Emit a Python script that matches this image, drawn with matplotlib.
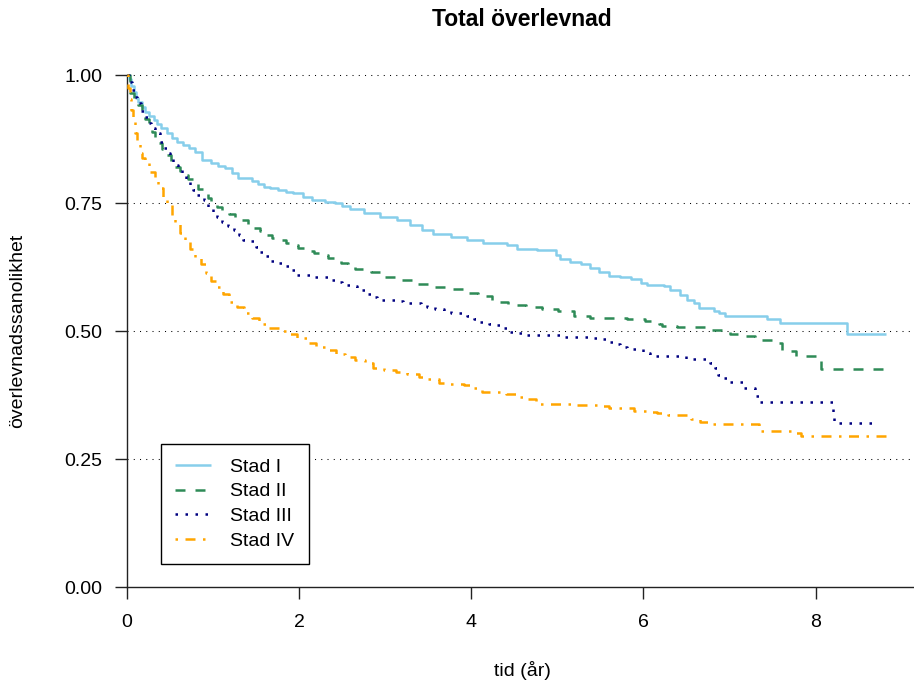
import matplotlib
matplotlib.use("Agg")
import matplotlib.pyplot as plt
from matplotlib.ticker import FormatStrFormatter

plt.rcParams['font.family'] = ['Liberation Sans', 'DejaVu Sans']

# ---- data ----
groups = ["Stad I", "Stad II", "Stad III", "Stad IV"]

t1 = [0, 0.02, 0.05, 0.08, 0.11, 0.13, 0.17, 0.21, 0.26, 0.31, 0.35, 0.40, 0.46, 0.52, 0.58,
      0.65, 0.72, 0.79, 0.87, 0.98, 1.06, 1.14, 1.22, 1.29, 1.45, 1.52, 1.59, 1.66, 1.75, 1.85,
      1.93, 2.05, 2.15, 2.30, 2.42, 2.50, 2.59, 2.75, 2.94, 3.14, 3.29, 3.43, 3.56, 3.76, 3.95,
      4.14, 4.42, 4.53, 4.76, 4.98, 5.03, 5.15, 5.27, 5.38, 5.48, 5.60, 5.73, 5.85, 5.97, 6.04,
      6.24, 6.31, 6.43, 6.51, 6.59, 6.64, 6.82, 6.88, 6.95, 7.44, 7.59, 8.37, 8.82]
s1 = [1.0, 0.992, 0.978, 0.966, 0.955, 0.948, 0.937, 0.928, 0.919, 0.912, 0.904, 0.896, 0.886, 0.876, 0.869,
      0.863, 0.857, 0.850, 0.834, 0.828, 0.823, 0.818, 0.808, 0.798, 0.792, 0.787, 0.782, 0.779, 0.775, 0.772,
      0.769, 0.762, 0.756, 0.752, 0.750, 0.744, 0.738, 0.730, 0.722, 0.716, 0.707, 0.697, 0.689, 0.683, 0.678,
      0.671, 0.668, 0.660, 0.658, 0.648, 0.641, 0.634, 0.630, 0.624, 0.616, 0.608, 0.605, 0.601, 0.594, 0.589,
      0.588, 0.580, 0.570, 0.561, 0.555, 0.544, 0.539, 0.535, 0.530, 0.523, 0.515, 0.495, 0.495]

t2 = [0, 0.03, 0.08, 0.13, 0.17, 0.21, 0.25, 0.29, 0.33, 0.36, 0.41, 0.46, 0.51, 0.56, 0.61,
      0.65, 0.71, 0.77, 0.83, 0.89, 0.94, 0.98, 1.04, 1.10, 1.18, 1.26, 1.34, 1.41, 1.48, 1.55,
      1.62, 1.68, 1.77, 1.85, 1.92, 1.99, 2.08, 2.17, 2.25, 2.33, 2.41, 2.49, 2.57, 2.65, 2.83,
      3.00, 3.17, 3.37, 3.54, 3.74, 3.91, 4.08, 4.24, 4.43, 4.63, 4.82, 5.01, 5.19, 5.38, 5.81,
      6.02, 6.18, 6.22, 6.39, 6.78, 7.00, 7.19, 7.30, 7.52, 7.61, 7.77, 8.03, 8.06, 8.81]
s2 = [1.0, 0.964, 0.952, 0.941, 0.928, 0.915, 0.902, 0.889, 0.878, 0.867, 0.855, 0.844, 0.832, 0.821, 0.813,
      0.805, 0.797, 0.788, 0.778, 0.769, 0.759, 0.749, 0.742, 0.736, 0.729, 0.723, 0.716, 0.709, 0.702, 0.696,
      0.688, 0.681, 0.677, 0.672, 0.667, 0.662, 0.657, 0.653, 0.648, 0.643, 0.638, 0.633, 0.627, 0.622, 0.616,
      0.606, 0.600, 0.592, 0.586, 0.583, 0.575, 0.568, 0.556, 0.551, 0.547, 0.542, 0.539, 0.529, 0.526, 0.523,
      0.520, 0.513, 0.509, 0.507, 0.501, 0.494, 0.490, 0.482, 0.476, 0.460, 0.451, 0.443, 0.426, 0.426]

t3 = [0, 0.02, 0.06, 0.09, 0.12, 0.16, 0.20, 0.24, 0.28, 0.33, 0.38, 0.42, 0.46, 0.50, 0.54,
      0.59, 0.64, 0.68, 0.73, 0.77, 0.81, 0.89, 0.94, 1.00, 1.05, 1.10, 1.17, 1.24, 1.30, 1.35,
      1.44, 1.50, 1.55, 1.61, 1.66, 1.76, 1.83, 1.90, 1.95, 2.15, 2.34, 2.42, 2.50, 2.59, 2.67,
      2.76, 2.83, 2.90, 3.12, 3.21, 3.41, 3.49, 3.58, 3.68, 3.76, 3.95, 4.03, 4.10, 4.20, 4.30,
      4.38, 4.45, 4.54, 4.64, 5.05, 5.38, 5.48, 5.57, 5.65, 5.73, 5.81, 6.00, 6.08, 6.49, 6.77,
      6.83, 6.86, 6.94, 7.00, 7.16, 7.30, 7.34, 8.20, 8.205, 8.21, 8.67]
s3 = [1.0, 0.987, 0.971, 0.958, 0.945, 0.930, 0.918, 0.907, 0.896, 0.886, 0.870, 0.858, 0.847, 0.835, 0.824,
      0.815, 0.805, 0.795, 0.785, 0.776, 0.766, 0.756, 0.742, 0.733, 0.722, 0.712, 0.705, 0.697, 0.688, 0.678,
      0.676, 0.665, 0.655, 0.646, 0.637, 0.633, 0.626, 0.619, 0.609, 0.605, 0.600, 0.595, 0.590, 0.587, 0.580,
      0.573, 0.567, 0.561, 0.559, 0.555, 0.552, 0.546, 0.542, 0.540, 0.535, 0.529, 0.523, 0.517, 0.514, 0.511,
      0.505, 0.499, 0.497, 0.492, 0.488, 0.487, 0.484, 0.479, 0.475, 0.469, 0.465, 0.458, 0.452, 0.445, 0.437,
      0.427, 0.414, 0.409, 0.400, 0.388, 0.374, 0.361, 0.356, 0.337, 0.321, 0.321]

t4 = [0, 0.015, 0.03, 0.05, 0.07, 0.09, 0.12, 0.15, 0.18, 0.21, 0.26, 0.32, 0.36, 0.42, 0.46,
      0.52, 0.56, 0.62, 0.67, 0.73, 0.79, 0.86, 0.92, 0.98, 1.05, 1.12, 1.19, 1.28, 1.36, 1.45,
      1.53, 1.64, 1.76, 1.88, 1.98, 2.09, 2.19, 2.31, 2.43, 2.53, 2.65, 2.77, 2.86, 2.98, 3.12,
      3.25, 3.39, 3.50, 3.62, 3.74, 3.91, 4.01, 4.12, 4.26, 4.40, 4.53, 4.63, 4.75, 4.80, 5.19,
      5.46, 5.60, 5.89, 6.04, 6.16, 6.29, 6.55, 6.66, 6.80, 7.34, 7.36, 7.77, 7.83, 8.85]
s4 = [1.0, 0.974, 0.954, 0.932, 0.909, 0.886, 0.867, 0.847, 0.838, 0.829, 0.811, 0.795, 0.779, 0.762, 0.746,
      0.727, 0.710, 0.691, 0.674, 0.660, 0.644, 0.631, 0.613, 0.598, 0.585, 0.572, 0.557, 0.546, 0.535, 0.525,
      0.513, 0.506, 0.500, 0.494, 0.486, 0.476, 0.469, 0.463, 0.456, 0.450, 0.443, 0.438, 0.427, 0.423, 0.419,
      0.416, 0.411, 0.406, 0.399, 0.396, 0.395, 0.389, 0.381, 0.380, 0.377, 0.372, 0.367, 0.360, 0.357, 0.355,
      0.353, 0.349, 0.344, 0.342, 0.339, 0.336, 0.328, 0.323, 0.318, 0.313, 0.305, 0.301, 0.295, 0.295]

x_ticks = [0, 2, 4, 6, 8]
y_ticks = [0.0, 0.25, 0.5, 0.75, 1.0]

colors = ["#87CEEB", "#2E8B57", "#000080", "#FFA500"]
dashes = [None, (4, 4), (1, 3), (1, 3, 4, 3)]

# ---- figure ----
W, H = 914, 686
fig = plt.figure(figsize=(W / 100, H / 100), dpi=100)
ax = fig.add_axes([127 / W, 99 / H, 786 / W, 517 / H])

lw = 1.8
series = [(t1, s1), (t2, s2), (t3, s3), (t4, s4)]
for (t, s), c, d, lab in zip(series, colors, dashes, groups):
    kw = dict(color=c, lw=lw, where='post', label=lab, zorder=3, solid_capstyle='butt')
    line, = ax.step(t, s, **kw)
    if d is not None:
        line.set_dashes(d)

ax.set_xlim(0, 786 / 86.08)
ax.set_ylim(0, 517 / 512)

for y in y_ticks[1:]:
    ax.axhline(y, color='black', lw=0.75, linestyle=(0, (1, 5)), zorder=1)

for sp in ['top', 'right']:
    ax.spines[sp].set_visible(False)
ax.spines['left'].set_bounds(0, 1)
for sp in ['left', 'bottom']:
    ax.spines[sp].set_linewidth(1.0)
    ax.spines[sp].set_color('#222222')

ax.set_xticks(x_ticks)
ax.set_yticks(y_ticks)
ax.yaxis.set_major_formatter(FormatStrFormatter('%.2f'))
ax.tick_params(axis='both', direction='out', length=8.6, width=1.0, color='#222222',
               labelsize=14, labelcolor='black')
ax.tick_params(axis='x', pad=11)
ax.tick_params(axis='y', pad=9)

leg = ax.legend(loc='lower left', bbox_to_anchor=(34 / 786, 23 / 517), borderaxespad=0,
                fontsize=14, frameon=True, fancybox=False, framealpha=1, edgecolor='black',
                handlelength=1.85, handletextpad=1.0, borderpad=0.72, labelspacing=0.37)
leg.get_frame().set_linewidth(1.0)

fig.text(522 / W, 1 - 19.5 / H, "Total överlevnad", ha='center', va='center',
         fontsize=16.5, fontweight='bold')
fig.text(522 / W, 1 - 670 / H, "tid (år)", ha='center', va='center', fontsize=14)
fig.text(18 / W, 1 - 331 / H, "överlevnadssanolikhet", ha='center', va='center',
         rotation=90, fontsize=14)

fig.savefig("out.png", dpi=100)
